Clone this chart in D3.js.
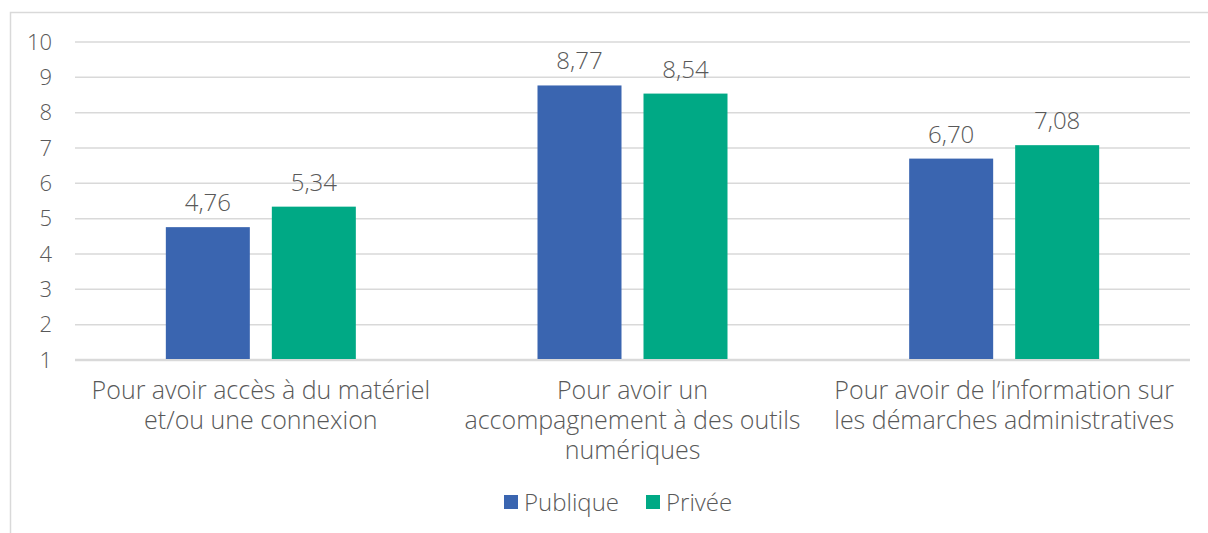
<html>
<head>
<script src="https://d3js.org/d3.v7.min.js"></script>
<style>
body { margin: 0; background: #fff; }
svg text { font-family: "Open Sans", "Noto Sans", sans-serif; font-weight: 300; fill: #595959; }
</style>
</head>
<body>
<svg id="chart"></svg>
<script>
// data
var categories = [
	["Pour avoir accès à du matériel", "et/ou une connexion"],
	["Pour avoir un", "accompagnement à des outils", "numériques"],
	["Pour avoir de l’information sur", "les démarches administratives"]
];
var seriesNames = ["Publique", "Privée"];
var publique = [4.76, 8.77, 6.70];
var privee = [5.34, 8.54, 7.08];
var yTicks = [1, 2, 3, 4, 5, 6, 7, 8, 9, 10];
var colors = ["#3a65b0", "#00a985"];

var W = 1208, H = 533;
var m = { left: 75, right: 18, top: 42, bottom: 173 };

var svg = d3.select("#chart").attr("width", W).attr("height", H);

// outer frame
svg.append("rect")
	.attr("x", 10.5).attr("y", 12.5)
	.attr("width", W + 20).attr("height", H + 20)
	.attr("fill", "none").attr("stroke", "#d9d9d9").attr("stroke-width", 1.5);

var x0 = d3.scaleBand().domain(d3.range(categories.length))
	.range([m.left, W - m.right]);
var x1 = d3.scaleBand().domain(seriesNames)
	.range([0, 190]).paddingInner(22 / 106);
var y = d3.scaleLinear().domain([1, 10]).range([H - m.bottom, m.top]);

// gridlines
svg.selectAll(".grid").data(yTicks).enter().append("line")
	.attr("x1", m.left).attr("x2", W - m.right)
	.attr("y1", function(d) { return y(d); })
	.attr("y2", function(d) { return y(d); })
	.attr("stroke", "#d9d9d9")
	.attr("stroke-width", function(d) { return d === 1 ? 2.5 : 1.5; });

// y labels
svg.selectAll(".ylab").data(yTicks).enter().append("text")
	.attr("x", 52).attr("y", function(d) { return y(d); })
	.attr("dy", "0.35em").attr("text-anchor", "end")
	.attr("font-size", 22)
	.text(function(d) { return d; });

var rows = categories.map(function(c, i) {
	return [{ s: seriesNames[0], v: publique[i], c: colors[0] },
	        { s: seriesNames[1], v: privee[i], c: colors[1] }];
});

var fmt = function(v) { return d3.format(".2f")(v).replace(".", ","); };

var grp = svg.selectAll(".grp").data(rows).enter().append("g")
	.attr("transform", function(d, i) {
		return "translate(" + (x0(i) + x0.bandwidth() / 2 - 95) + ",0)";
	});

grp.selectAll("rect").data(function(d) { return d; }).enter().append("rect")
	.attr("x", function(d) { return x1(d.s); })
	.attr("width", x1.bandwidth())
	.attr("y", function(d) { return y(d.v); })
	.attr("height", function(d) { return y(1) - y(d.v) - 1; })
	.attr("fill", function(d) { return d.c; });

grp.selectAll(".val").data(function(d) { return d; }).enter().append("text")
	.attr("x", function(d) { return x1(d.s) + x1.bandwidth() / 2; })
	.attr("y", function(d) { return y(d.v) - 16; })
	.attr("text-anchor", "middle").attr("font-size", 24)
	.attr("fill", "#404040")
	.text(function(d) { return fmt(d.v); });

// category labels
svg.selectAll(".cat").data(categories).enter().append("text")
	.attr("text-anchor", "middle").attr("font-size", 25)
	.attr("x", function(d, i) { return x0(i) + x0.bandwidth() / 2; })
	.each(function(d, i) {
		var t = d3.select(this);
		d.forEach(function(line, j) {
			t.append("tspan")
				.attr("x", x0(i) + x0.bandwidth() / 2)
				.attr("y", 399 + j * 30)
				.text(line);
		});
	});

// legend
var legX = [504, 646];
var leg = svg.selectAll(".leg").data(seriesNames).enter().append("g")
	.attr("transform", function(d, i) { return "translate(" + legX[i] + ",495)"; });
leg.append("rect").attr("width", 14).attr("height", 14)
	.attr("fill", function(d, i) { return colors[i]; });
leg.append("text").attr("x", 20).attr("y", 7).attr("dy", "0.36em")
	.attr("font-size", 24).text(function(d) { return d; });
</script>
</body>
</html>
